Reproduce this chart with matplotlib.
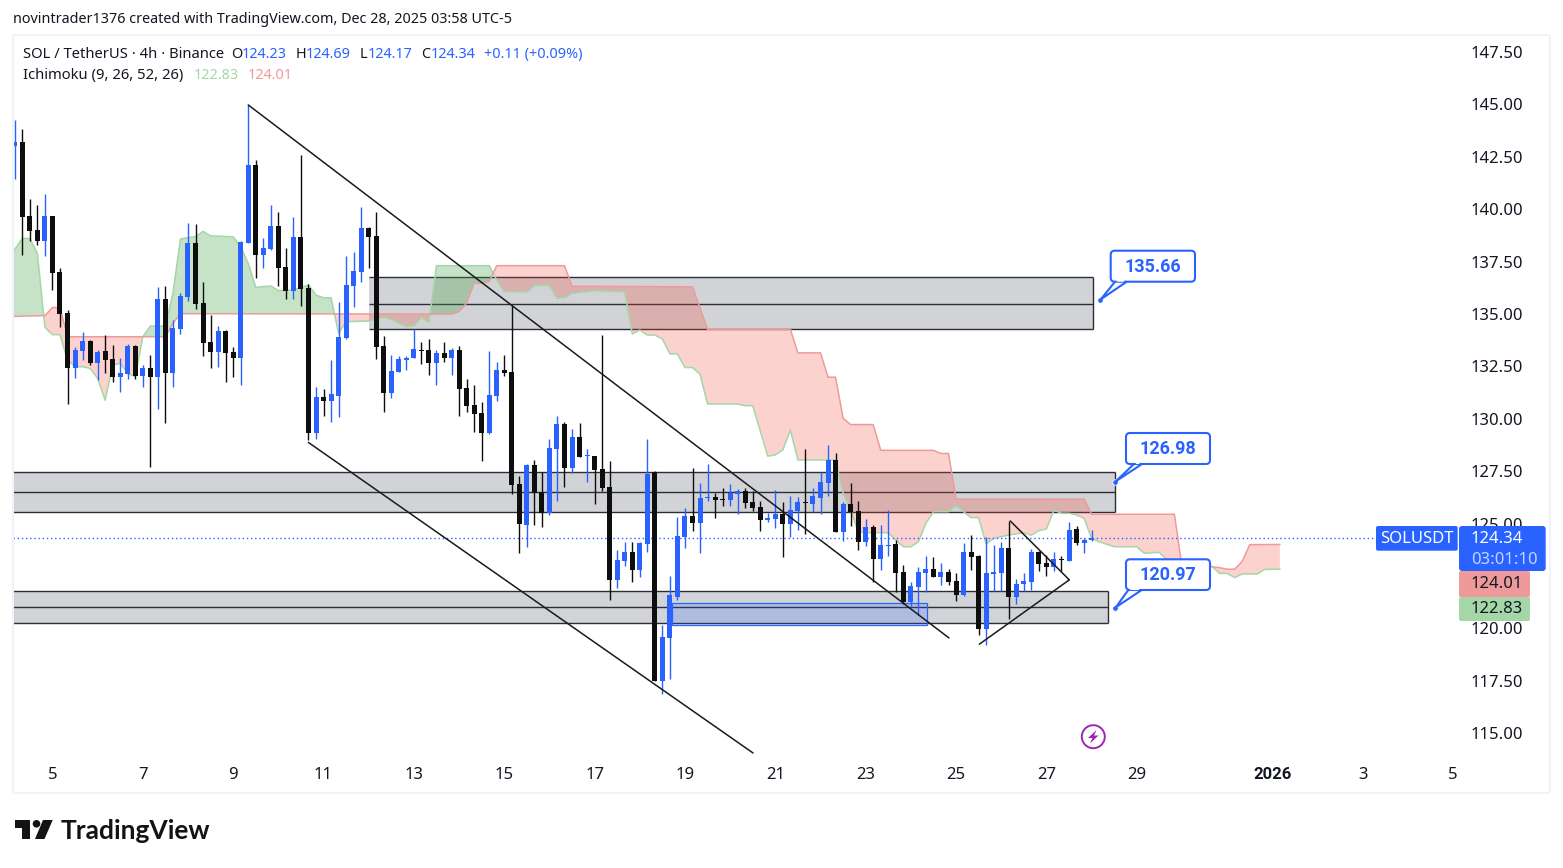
import numpy as np
import matplotlib
matplotlib.use('Agg')
import matplotlib.pyplot as plt
from matplotlib.patches import FancyBboxPatch, Polygon, Circle, Rectangle
from matplotlib.transforms import Affine2D

plt.rcParams['font.family'] = ['Noto Sans', 'DejaVu Sans']

# candles, 4h bars
opens = [143.02, 143.21, 139.68, 139.01, 138.50, 139.68, 137.01, 135.05, 132.45, 133.24, 133.72, 132.67,
         133.24, 132.86, 132.00, 132.14, 133.48, 132.05, 132.43, 132.00, 135.72, 132.19, 134.29, 135.82,
         138.39, 135.53, 133.67, 133.19, 134.19, 133.19, 132.91, 138.39, 142.11, 137.82, 138.10, 139.20,
         137.25, 136.10, 138.68, 136.25, 129.33, 131.05, 130.86, 131.10, 133.85, 136.34, 137.01, 139.11,
         138.73, 133.48, 131.24, 132.24, 132.81, 132.91, 133.29, 133.29, 132.67, 133.15, 132.91, 133.29,
         131.48, 130.67, 130.29, 129.33, 131.10, 132.34, 132.24, 126.90, 124.94, 127.80, 126.52, 125.52,
         128.57, 129.76, 127.66, 129.14, 128.23, 128.23, 127.61, 126.75, 122.32, 123.23, 123.65, 122.80,
         124.03, 127.47, 117.50, 119.55, 121.51, 124.37, 125.37, 125.04, 126.23, 126.28, 126.18, 126.13,
         126.42, 126.56, 126.04, 125.80, 125.18, 125.23, 125.47, 124.99, 125.61, 126.04, 125.94, 126.23,
         126.94, 128.04, 124.61, 125.94, 125.61, 124.13, 124.85, 123.32, 123.94, 124.03, 122.70, 121.27,
         121.98, 122.65, 122.84, 122.46, 122.70, 122.27, 121.60, 123.65, 123.46, 119.98, 122.60, 122.65,
         123.84, 121.50, 122.12, 122.22, 123.65, 123.13, 122.94, 123.32, 123.22, 124.75, 124.08, 124.23]
highs = [144.26, 143.81, 140.47, 140.21, 140.73, 139.68, 137.20, 135.20, 133.43, 134.15, 133.77, 133.29,
         134.00, 133.53, 132.91, 133.57, 133.53, 132.57, 133.05, 136.29, 136.34, 134.72, 136.01, 139.35,
         139.30, 136.53, 134.96, 134.43, 134.24, 133.43, 138.49, 144.97, 142.35, 138.63, 140.21, 139.87,
         138.15, 139.63, 142.59, 136.44, 131.53, 131.43, 132.81, 135.58, 137.77, 137.96, 140.11, 139.16,
         139.87, 133.96, 133.05, 133.00, 133.00, 134.29, 133.67, 133.82, 133.29, 133.67, 133.39, 133.48,
         131.91, 131.62, 130.81, 133.24, 132.72, 133.05, 135.44, 127.28, 127.85, 128.04, 127.47, 129.04,
         130.14, 129.86, 129.52, 129.81, 128.57, 128.23, 134.00, 127.99, 123.75, 124.13, 124.13, 124.13,
         129.04, 127.52, 120.17, 122.51, 125.32, 125.75, 127.66, 126.94, 127.85, 126.47, 126.71, 126.90,
         126.66, 126.71, 126.56, 126.09, 125.51, 126.61, 126.04, 126.32, 126.28, 128.57, 126.71, 127.47,
         128.76, 128.38, 126.04, 126.94, 126.09, 125.23, 124.94, 124.94, 125.66, 124.23, 123.03, 122.22,
         122.94, 123.46, 123.41, 123.13, 122.84, 122.65, 124.08, 124.46, 123.51, 124.37, 123.98, 124.13,
         125.13, 122.36, 122.65, 123.79, 123.70, 123.51, 123.65, 123.46, 125.08, 124.89, 124.32, 124.69]
lows = [141.46, 137.84, 138.50, 138.30, 137.79, 136.15, 134.39, 130.73, 131.95, 132.81, 132.57, 131.86,
        132.19, 131.76, 131.28, 131.90, 131.90, 131.52, 127.71, 130.47, 129.80, 131.52, 134.05, 135.63,
        135.24, 133.00, 132.43, 132.48, 131.76, 132.00, 131.62, 138.39, 136.72, 137.20, 138.06, 136.34,
        135.72, 135.72, 135.39, 129.00, 129.04, 130.15, 129.86, 130.10, 133.81, 135.34, 136.53, 137.20,
        132.86, 130.33, 131.00, 132.24, 132.34, 132.91, 132.62, 132.10, 131.62, 132.72, 132.10, 130.15,
        130.33, 129.38, 127.99, 129.28, 130.86, 132.05, 126.42, 123.61, 123.89, 124.94, 124.85, 125.42,
        126.09, 126.75, 127.42, 128.19, 127.00, 125.95, 126.57, 121.37, 121.94, 122.99, 122.23, 122.46,
        123.65, 117.50, 116.88, 117.60, 121.36, 123.84, 124.66, 123.61, 126.09, 125.28, 125.85, 125.85,
        125.47, 125.75, 125.61, 124.66, 125.08, 124.80, 123.42, 124.37, 124.70, 124.51, 125.56, 125.47,
        126.32, 124.61, 124.18, 124.89, 123.75, 123.94, 122.22, 122.80, 123.46, 121.75, 121.17, 121.07,
        120.65, 121.74, 122.46, 122.08, 122.08, 121.31, 121.55, 122.79, 119.69, 119.21, 121.79, 121.79,
        120.46, 121.17, 121.79, 121.84, 122.74, 122.51, 122.74, 122.74, 123.22, 123.99, 123.60, 124.17]
closes = [143.21, 139.65, 138.96, 138.50, 139.68, 136.98, 135.02, 132.45, 133.29, 133.72, 132.67, 133.19,
          132.81, 132.00, 132.19, 133.48, 132.05, 132.43, 132.00, 135.72, 132.19, 134.34, 135.86, 138.39,
          135.48, 133.62, 133.19, 134.19, 133.14, 132.91, 138.44, 142.11, 137.82, 138.15, 139.20, 137.20,
          136.10, 138.68, 136.20, 129.33, 131.05, 130.86, 131.19, 133.91, 136.39, 137.06, 139.11, 138.68,
          133.43, 131.24, 132.29, 132.86, 132.91, 133.34, 133.24, 132.67, 133.15, 132.91, 133.29, 131.43,
          130.62, 130.24, 129.33, 131.14, 132.34, 132.19, 126.85, 124.99, 127.80, 126.47, 125.52, 128.62,
          129.76, 127.66, 129.14, 128.19, 128.28, 127.57, 126.71, 122.32, 123.27, 123.65, 122.80, 124.08,
          127.37, 117.50, 119.60, 121.60, 124.42, 125.37, 125.04, 126.23, 126.28, 126.13, 126.13, 126.47,
          126.56, 125.99, 125.75, 125.18, 125.28, 125.47, 124.99, 125.66, 126.04, 125.99, 126.32, 126.99,
          128.04, 124.61, 125.94, 125.56, 124.13, 124.85, 123.32, 123.99, 123.99, 122.65, 121.27, 122.03,
          122.70, 122.84, 122.46, 122.70, 122.22, 121.60, 123.65, 123.41, 119.98, 122.65, 122.70, 123.84,
          121.50, 122.12, 122.27, 123.65, 123.08, 122.94, 123.32, 123.27, 124.70, 124.08, 124.22, 124.34]

# ichimoku cloud, read at the bars where the lines bend
span_a_bars = [-1, 0, 1, 2, 3, 4, 5, 6, 7, 8, 9, 10, 11, 12, 13, 14, 15, 16, 17, 18, 19, 20, 21, 22, 23, 24, 25, 26,
               29, 30, 31, 32, 33, 34, 35, 37, 39, 40, 41, 42, 43, 44, 47, 49, 50, 52, 53, 54, 55, 56, 63, 64, 65,
               68, 69, 71, 72, 73, 74, 77, 81, 82, 83, 84, 85, 86, 87, 88, 89, 90, 91, 92, 96, 97, 98, 100, 101,
               102, 103, 104, 109, 110, 111, 112, 113, 116, 117, 118, 119, 120, 121, 122, 124, 125, 126, 127, 128,
               129, 130, 132, 134, 135, 136, 137, 138, 139, 140, 141, 142, 143, 144, 146, 149, 150, 152, 153, 154,
               155, 156, 157, 158, 159, 160, 161, 162, 163, 165, 166, 168]
span_a = [137.6, 138.09, 138.61, 138.61, 137.9, 134.37, 134.02, 134.02, 132.81, 132.49, 132.49, 132.41, 131.94,
          130.89, 132.57, 132.65, 132.17, 132.02, 133.92, 134.43, 134.43, 134.43, 135.99, 138.58, 138.65, 138.69,
          138.95, 138.73, 138.69, 138.22, 137.42, 136.28, 136.31, 136.34, 136.12, 136.15, 136.39, 135.91, 135.78,
          135.78, 134.08, 134.64, 134.67, 134.85, 134.75, 134.4, 134.43, 134.85, 134.6, 137.31, 137.31, 136.63,
          136.07, 136.06, 136.36, 136.36, 135.75, 135.79, 135.99, 136.12, 136.06, 134.05, 134.24, 134.0, 134.0,
          133.81, 133.1, 133.1, 132.45, 132.45, 132.13, 130.71, 130.71, 130.63, 130.63, 128.22, 128.28, 128.52,
          129.47, 128.04, 128.04, 126.45, 125.65, 124.62, 124.57, 124.57, 124.22, 123.9, 123.9, 124.14, 125.02,
          125.57, 125.57, 125.85, 125.57, 125.29, 125.29, 124.03, 124.3, 124.46, 124.57, 124.45, 124.67, 124.75,
          125.65, 125.5, 125.5, 125.42, 125.26, 124.3, 124.14, 123.9, 123.9, 123.59, 123.63, 123.27, 123.11,
          122.95, 123.03, 123.11, 123.11, 122.95, 122.63, 122.63, 122.43, 122.6, 122.6, 122.82, 122.83]
span_b_bars = [-1, 4, 5, 6, 7, 20, 21, 22, 58, 59, 60, 61, 62, 63, 64, 73, 74, 90, 91, 92, 103, 104, 107, 108, 109,
               110, 111, 114, 115, 122, 123, 124, 125, 142, 143, 154, 155, 159, 160, 161, 162, 163, 164, 168]
span_b = [134.88, 134.93, 135.31, 135.31, 133.92, 133.92, 134.56, 135.02, 135.0, 135.12, 135.52, 136.47, 136.47,
          136.55, 137.31, 137.31, 136.33, 136.3, 135.3, 134.27, 134.27, 133.15, 133.15, 131.99, 131.99, 130.03,
          129.73, 129.73, 128.5, 128.5, 128.35, 128.35, 126.17, 126.17, 125.45, 125.45, 122.95, 122.95, 122.9,
          122.83, 122.83, 123.2, 124.0, 124.01]

# drawn zones: top, middle, bottom, first bar, last bar
zone_tops = [136.75, 127.45, 121.78]
zone_mids = [135.5, 126.5, 121.02]
zone_bottoms = [134.27, 125.55, 120.26]
zone_starts = [47.0, -1.0, -1.0]
zone_ends = [143.2, 146.1, 145.2]

# blue box: first bar, last bar, top, bottom
blue_start, blue_end, blue_top, blue_bottom = 87.3, 121.2, 121.2, 120.15

# trend lines as (bar, bar), (price, price)
trend_bars = [[31, 124.06], [38.98, 98.04], [132.2, 140.04], [140.04, 128.09]]
trend_prices = [[144.98, 119.55], [128.88, 114.06], [125.13, 122.32], [122.32, 119.25]]

callout_prices = [135.66, 126.98, 120.97]
callout_bars = [144.1, 146.1, 146.1]
callout_labels = ['135.66', '126.98', '120.97']

price_ticks = [115, 117.5, 120, 125, 127.5, 130, 132.5, 135, 137.5, 140, 142.5, 145, 147.5]
day_ticks = [5, 17, 29, 41, 53, 65, 77, 89, 101, 113, 125, 137, 149, 167, 179, 191]
day_labels = ['5', '7', '9', '11', '13', '15', '17', '19', '21', '23', '25', '27', '29', '2026', '3', '5']

last_price = 124.34
BLUE = '#2962ff'
BLACK = '#0e0e0e'
TEXT = '#131722'
GREEN_EDGE = '#a5d6a7'
RED_EDGE = '#ef9a9a'

W, H = 1563, 868
BAR_PX = 7.53
FIRST_BAR_X = 14.8
PX_PER_UNIT = 20.96

fig = plt.figure(figsize=(W / 100, H / 100), dpi=100, facecolor='white')
pix = Affine2D().scale(1, -1).translate(0, H)  # pixel coordinates from the top left

left, right, top, bottom = 13, 1459, 35, 762
ax = fig.add_axes([left / W, 1 - bottom / H, (right - left) / W, (bottom - top) / H])
ax.set_xlim((left - FIRST_BAR_X) / BAR_PX, (right - FIRST_BAR_X) / BAR_PX)
ax.set_ylim(145 - (bottom - 104.5) / PX_PER_UNIT, 145 + (104.5 - top) / PX_PER_UNIT)
for s in ax.spines.values():
    s.set_visible(False)

ax.yaxis.tick_right()
ax.set_yticks(price_ticks)
ax.set_yticklabels(['%.2f' % p for p in price_ticks], fontsize=12, color=TEXT)
ax.set_xticks(day_ticks)
labels = ax.set_xticklabels(day_labels, fontsize=12, color=TEXT)
labels[13].set_family('Roboto')
labels[13].set_fontweight('bold')
ax.tick_params(axis='y', length=0, pad=8)
ax.tick_params(axis='x', length=0, pad=3.5)

# zones
for t, m, b, s, e in zip(zone_tops, zone_mids, zone_bottoms, zone_starts, zone_ends):
    ax.fill_between([s, e], b, t, color='#d2d3d6', lw=0, zorder=1)
    ax.hlines([t, m, b], s, e, color='#2a2e39', lw=1.0, zorder=1.2)
    ax.vlines(e, b, t, color='#2a2e39', lw=1.0, zorder=1.2)

# blue box on the lower zone
ax.add_patch(Rectangle((blue_start, blue_bottom), blue_end - blue_start, blue_top - blue_bottom,
                       facecolor=(0.16, 0.38, 1.0, 0.2), edgecolor=BLUE, lw=0.9, zorder=1.5))

# ichimoku cloud
cloud_x = np.unique(np.concatenate([span_a_bars, span_b_bars]))
a_y = np.interp(cloud_x, span_a_bars, span_a)
b_y = np.interp(cloud_x, span_b_bars, span_b)
ax.fill_between(cloud_x, a_y, b_y, where=a_y >= b_y, interpolate=True, color=(67/255, 160/255, 71/255, 0.3), lw=0, zorder=2)
ax.fill_between(cloud_x, a_y, b_y, where=a_y <= b_y, interpolate=True, color=(244/255, 67/255, 54/255, 0.24), lw=0, zorder=2)
ax.plot(span_a_bars, span_a, color=GREEN_EDGE, lw=1.1, zorder=2.1)
ax.plot(span_b_bars, span_b, color=RED_EDGE, lw=1.1, zorder=2.1)

# candles
bars = np.arange(len(opens))
o = np.array(opens)
c = np.array(closes)
colors = [BLUE if x >= y else BLACK for x, y in zip(c, o)]
ax.vlines(bars, lows, highs, color=colors, lw=1.0, zorder=3)
ax.bar(bars, np.maximum(np.abs(c - o), 0.05), bottom=np.minimum(o, c), width=5.0 / BAR_PX, color=colors, lw=0, zorder=3.1)

# last price line
ax.axhline(last_price, color=BLUE, lw=1.0, ls=(0, (1, 2)), zorder=2.5)

# trend lines
for xs, ys in zip(trend_bars, trend_prices):
    ax.plot(xs, ys, color='#1a1a1a', lw=1.1, zorder=4, solid_capstyle='round')


def box(x0, y0, x1, y1, fc, ec='none', lw=0, rad=2, z=2):
    p = FancyBboxPatch((x0 + rad, y0 + rad), x1 - x0 - 2 * rad, y1 - y0 - 2 * rad, boxstyle='round,pad=%g,rounding_size=%g' % (rad, rad),
                       fc=fc, ec=ec, lw=lw, transform=pix, zorder=z)
    fig.add_artist(p)


def label(x, y, s, color=TEXT, size=10.5, ha='left', weight='normal', family=None):
    fig.text(x, y + 1.5, s, color=color, fontsize=size, ha=ha, va='center', fontweight=weight, transform=pix, zorder=5, family=family)


# callouts
boxes = [(1110.7, 250.7, 1195, 281.7), (1126, 433, 1210, 464), (1126, 559.3, 1210, 590)]
tails = [(1115, 1126.7), (1134, 1142), (1128.3, 1141.7)]
for price, bar, txt, (x0, y0, x1, y1), (t0, t1) in zip(callout_prices, callout_bars, callout_labels, boxes, tails):
    ax.plot([bar], [price], 'o', ms=4, color=BLUE, mec='white', mew=0.6, zorder=6)
    dot_x = FIRST_BAR_X + bar * BAR_PX
    dot_y = 104.5 + (145 - price) * PX_PER_UNIT
    fig.add_artist(Polygon([(t0, y1), (dot_x + 1, dot_y - 1), (t1, y1)], closed=False, fc='white', ec=BLUE, lw=1.5, transform=pix, zorder=2))
    box(x0, y0, x1, y1, 'white', BLUE, 1.5, rad=4, z=2.1)
    fig.add_artist(Polygon([(t0 + 1.5, y1), (t1 - 2.5, y1), (t1 - 3, y1 - 2), (t0 + 3, y1 - 2)], fc='white', ec='none', transform=pix, zorder=2.2))
    label((x0 + x1) / 2, (y0 + y1) / 2 - 1, txt, BLUE, 13, 'center', 'bold', 'Roboto')

# price axis labels
box(1376, 526, 1457.7, 550.7, BLUE, rad=2)
label(1416.8, 537.5, 'SOLUSDT', 'white', 12, 'center')
box(1459, 526, 1545.7, 571, BLUE, rad=3)
label(1471, 537.5, '124.34', 'white', 12)
label(1471, 558, '03:01:10', '#c4d3ff', 12)
box(1459, 571, 1530, 597, RED_EDGE, rad=2)
label(1471, 582.5, '124.01', TEXT, 12)
box(1459, 597, 1530, 621, GREEN_EDGE, rad=2)
label(1471, 607.5, '122.83', TEXT, 12)

# pane frame
fig.add_artist(FancyBboxPatch((15, 37), 1533, 754, boxstyle='round,pad=2,rounding_size=2', fc='none', ec='#f0f3fa', lw=1.5,
                              transform=pix, zorder=1.5))

# header and legend
label(13, 18, 'novintrader1376 created with TradingView.com, Dec 28, 2025 03:58 UTC-5', TEXT, 10.35)
label(23, 53, 'SOL / TetherUS · 4h · Binance', TEXT, 10.65)
for x, s, col in [(231.5, 'O', TEXT), (242, '124.23', BLUE), (296, 'H', TEXT), (306, '124.69', BLUE), (360, 'L', TEXT),
                  (367.5, '124.17', BLUE), (421, 'C', TEXT), (430.5, '124.34', BLUE), (484, '+0.11 (+0.09%)', BLUE)]:
    label(x, 53, s, col, 10.4)
label(23, 74, 'Ichimoku (9, 26, 52, 26)', TEXT, 10.65)
label(193.5, 74, '122.83', GREEN_EDGE, 10.4)
label(248, 74, '124.01', RED_EDGE, 10.4)

# trading view logo
fig.add_artist(Polygon([(15, 820), (30, 820), (30, 839), (22, 839), (22, 827.5), (15, 827.5)], fc='#131313', ec='none', transform=pix, zorder=3))
fig.add_artist(Circle((36.5, 823.8), 3.8, fc='#131313', ec='none', transform=pix, zorder=3))
fig.add_artist(Polygon([(43, 820), (52.7, 820), (44.5, 839), (35, 839)], fc='#131313', ec='none', transform=pix, zorder=3))
label(61, 829.5, 'TradingView', '#131313', 19, weight='bold', family='Lato')

# flash icon
fig.add_artist(Circle((1093.3, 736.7), 11.5, fc='white', ec='#9c27b0', lw=1.4, transform=pix, zorder=3))
fig.add_artist(Polygon([(1096.5, 730), (1088, 738), (1092.5, 738), (1090, 743.5), (1098.5, 735.5), (1094, 735.5)], fc='#9c27b0', ec='none',
                       transform=pix, zorder=3.1))

fig.savefig('out.png', dpi=100)
